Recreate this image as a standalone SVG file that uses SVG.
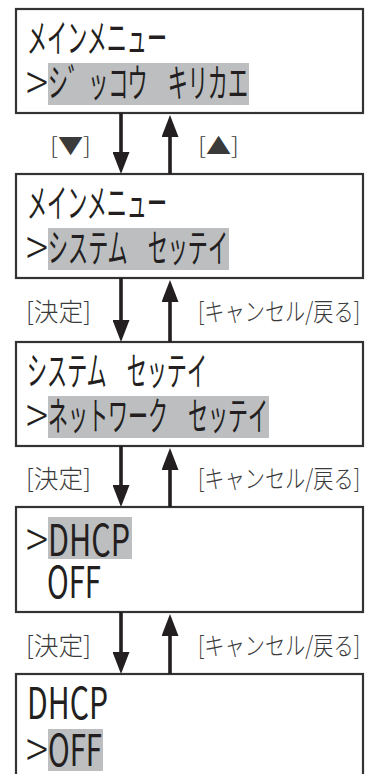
<svg xmlns="http://www.w3.org/2000/svg" width="371" height="774" viewBox="0 0 371 774">
<style>
.box{fill:#fff;stroke:#333;stroke-width:2.2}
.hl{fill:#bcbec0}
.t{font-family:"Noto Sans CJK JP","Noto Sans",sans-serif;font-size:39px;fill:#231f20}
.gt{font-size:50px;font-weight:300}
.lat{font-size:43px}
.lb{font-family:"Noto Sans CJK JP","Noto Sans",sans-serif;font-size:25px;font-weight:300;fill:#3a3a3a}
.ar{stroke:#231f20;stroke-width:3.6;fill:none}
</style>
<defs>
<marker id="ah" viewBox="0 0 22 17" refX="12" refY="8.5" markerWidth="22" markerHeight="17" markerUnits="userSpaceOnUse" orient="auto">
<path d="M0,0 L22,8.5 L0,17 z" fill="#231f20"/>
</marker>
</defs>
<rect width="371" height="774" fill="#fff"/>
<g id="n1">
<rect class="box" x="16" y="9" width="347" height="104"/>
<text class="t" x="27" y="52" textLength="140" lengthAdjust="spacingAndGlyphs">メインメニュー</text>
<rect class="hl" x="48" y="63" width="201" height="42"/>
<text class="t gt" x="26" y="101" textLength="22" lengthAdjust="spacingAndGlyphs">&gt;</text>
<text class="t" x="48" y="97" textLength="200" lengthAdjust="spacingAndGlyphs">シ゛ッコウ　キリカエ</text>
</g>
<g id="n2">
<rect class="box" x="16" y="174" width="347" height="104"/>
<text class="t" x="27" y="217" textLength="140" lengthAdjust="spacingAndGlyphs">メインメニュー</text>
<rect class="hl" x="48" y="228" width="181" height="42"/>
<text class="t gt" x="26" y="266" textLength="22" lengthAdjust="spacingAndGlyphs">&gt;</text>
<text class="t" x="48" y="262" textLength="180" lengthAdjust="spacingAndGlyphs">システム　セッテイ</text>
</g>
<g id="n3">
<rect class="box" x="16" y="342" width="347" height="104"/>
<text class="t" x="27" y="385" textLength="180" lengthAdjust="spacingAndGlyphs">システム　セッテイ</text>
<rect class="hl" x="48" y="396" width="221" height="42"/>
<text class="t gt" x="26" y="434" textLength="22" lengthAdjust="spacingAndGlyphs">&gt;</text>
<text class="t" x="48" y="430" textLength="220" lengthAdjust="spacingAndGlyphs">ネットワーク　セッテイ</text>
</g>
<g id="n4">
<rect class="box" x="16" y="507" width="347" height="105"/>
<rect class="hl" x="48" y="517" width="84" height="42"/>
<text class="t gt" x="26" y="558" textLength="22" lengthAdjust="spacingAndGlyphs">&gt;</text>
<text class="t lat" x="48" y="556" textLength="82" lengthAdjust="spacingAndGlyphs">DHCP</text>
<text class="t lat" x="47" y="598" textLength="54" lengthAdjust="spacingAndGlyphs">OFF</text>
</g>
<g id="n5">
<rect class="box" x="16" y="674" width="347" height="110"/>
<text class="t lat" x="27" y="719" textLength="81" lengthAdjust="spacingAndGlyphs">DHCP</text>
<rect class="hl" x="48" y="729" width="55" height="42"/>
<text class="t gt" x="26" y="768" textLength="22" lengthAdjust="spacingAndGlyphs">&gt;</text>
<text class="t lat" x="48" y="766" textLength="54" lengthAdjust="spacingAndGlyphs">OFF</text>
</g>
<g id="connectors">
<line class="ar" x1="121" y1="113" x2="121" y2="164" marker-end="url(#ah)"/>
<line class="ar" x1="170" y1="174" x2="170" y2="125" marker-end="url(#ah)"/>
<line class="ar" x1="121" y1="278" x2="121" y2="332" marker-end="url(#ah)"/>
<line class="ar" x1="170" y1="342" x2="170" y2="290" marker-end="url(#ah)"/>
<line class="ar" x1="121" y1="446" x2="121" y2="497" marker-end="url(#ah)"/>
<line class="ar" x1="170" y1="507" x2="170" y2="458" marker-end="url(#ah)"/>
<line class="ar" x1="121" y1="612" x2="121" y2="664" marker-end="url(#ah)"/>
<line class="ar" x1="170" y1="674" x2="170" y2="624" marker-end="url(#ah)"/>
</g>
<g id="labels">
<text class="lb" transform="translate(50,154) scale(1,0.7)" style="font-size:32px" x="0" y="0" textLength="41" lengthAdjust="spacingAndGlyphs">[▼]</text>
<text class="lb" transform="translate(198,154) scale(1,0.7)" style="font-size:32px" x="0" y="0" textLength="41" lengthAdjust="spacingAndGlyphs">[▲]</text>
<text class="lb" x="26" y="321" textLength="65" lengthAdjust="spacingAndGlyphs">[決定]</text>
<text class="lb" x="198" y="321" textLength="162" lengthAdjust="spacingAndGlyphs">[キャンセル/戻る]</text>
<text class="lb" x="26" y="488" textLength="65" lengthAdjust="spacingAndGlyphs">[決定]</text>
<text class="lb" x="198" y="488" textLength="162" lengthAdjust="spacingAndGlyphs">[キャンセル/戻る]</text>
<text class="lb" x="26" y="655" textLength="65" lengthAdjust="spacingAndGlyphs">[決定]</text>
<text class="lb" x="198" y="655" textLength="162" lengthAdjust="spacingAndGlyphs">[キャンセル/戻る]</text>
</g>
</svg>
